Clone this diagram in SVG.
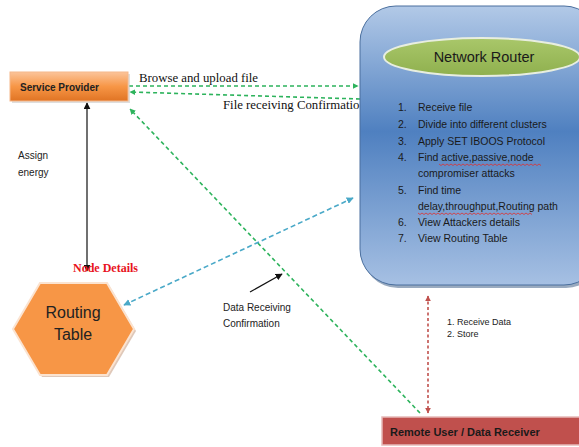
<svg xmlns="http://www.w3.org/2000/svg" width="579" height="447" viewBox="0 0 579 447">
<defs>
<style>
.sans{font-family:"Liberation Sans","Open Sans",sans-serif;}
.serif{font-family:"Liberation Serif","DejaVu Serif",serif;}
.lbl{font-size:10px;fill:#222;}
.li{font-size:10.5px;fill:#1a1a1a;}
.green{stroke:#2db35c;stroke-width:1.6;stroke-dasharray:4 3;fill:none;}
.teal{stroke:#4aa9c8;stroke-width:1.6;stroke-dasharray:5 3;fill:none;}
.red{stroke:#c0504d;stroke-width:1.6;stroke-dasharray:3 2.5;fill:none;}
.black{stroke:#111;stroke-width:1.2;fill:none;}
.wavy{stroke:#e03030;stroke-width:0.8;fill:none;}
</style>
<linearGradient id="gRouter" x1="0" y1="0" x2="0" y2="1">
<stop offset="0" stop-color="#b2c9e7"/>
<stop offset="0.45" stop-color="#4f80c0"/>
<stop offset="1" stop-color="#a6c0e3"/>
</linearGradient>
<linearGradient id="gSP" x1="0" y1="0" x2="0" y2="1">
<stop offset="0" stop-color="#fbc49a"/>
<stop offset="0.5" stop-color="#f79646"/>
<stop offset="1" stop-color="#e07424"/>
</linearGradient>
<linearGradient id="gEll" x1="0" y1="0" x2="0" y2="1">
<stop offset="0" stop-color="#a9c76a"/>
<stop offset="1" stop-color="#8fb04e"/>
</linearGradient>
<marker id="mG" viewBox="0 0 10 10" refX="9" refY="5" markerWidth="6" markerHeight="6" orient="auto-start-reverse" markerUnits="userSpaceOnUse"><path d="M0,0 L10,5 L0,10 z" fill="#2db35c"/></marker>
<marker id="mT" viewBox="0 0 10 10" refX="9" refY="5" markerWidth="7" markerHeight="7" orient="auto-start-reverse" markerUnits="userSpaceOnUse"><path d="M0,0 L10,5 L0,10 z" fill="#4aa9c8"/></marker>
<marker id="mR" viewBox="0 0 10 10" refX="9" refY="5" markerWidth="6" markerHeight="6" orient="auto-start-reverse" markerUnits="userSpaceOnUse"><path d="M0,0 L10,5 L0,10 z" fill="#c0504d"/></marker>
<marker id="mK" viewBox="0 0 10 10" refX="9" refY="5" markerWidth="7" markerHeight="7" orient="auto-start-reverse" markerUnits="userSpaceOnUse"><path d="M0,0 L10,5 L0,10 z" fill="#111"/></marker>
</defs>
<rect width="579" height="447" fill="#ffffff"/>

<g id="connectors">
<path class="green" d="M129,86 L358,86" marker-end="url(#mG)"/>
<path class="green" d="M360,99 L130,92" marker-end="url(#mG)"/>
<path class="green" d="M420,413 L130,109" marker-end="url(#mG)"/>
<path class="black" d="M87,271 L87,103" marker-start="url(#mK)" marker-end="url(#mK)"/>
<path class="teal" d="M124,305 L353,198" marker-start="url(#mT)" marker-end="url(#mT)"/>
<path class="red" d="M428,296 L428,413" marker-start="url(#mR)" marker-end="url(#mR)"/>
<path class="black" d="M250,292 L282,274" marker-end="url(#mK)"/>
<text class="serif" x="139" y="82" font-size="12.8" fill="#111">Browse and upload file</text>
<text class="serif" x="223" y="109" font-size="12.8" fill="#111">File receiving Confirmatio</text>
<text class="sans lbl" x="18" y="159">Assign</text>
<text class="sans lbl" x="18" y="176">energy</text>
<text class="serif" x="73" y="272" font-size="12" font-weight="bold" fill="#e8141e">Node Details</text>
<text class="sans lbl" x="223" y="311">Data Receiving</text>
<text class="sans lbl" x="223" y="327">Confirmation</text>
<text class="sans" x="447" y="325" font-size="9" fill="#222">1. Receive Data</text>
<text class="sans" x="447" y="337" font-size="9" fill="#222">2.  Store</text>
</g>

<g id="service-provider">
<rect x="12" y="74" width="118" height="29" fill="#c8c8c8" opacity="0.6"/>
<rect x="10" y="72" width="118" height="29" fill="url(#gSP)" stroke="#f5b78a" stroke-width="1"/>
<text class="sans" x="20" y="91" font-size="10" font-weight="bold" fill="#222">Service Provider</text>
</g>

<g id="network-router">
<rect x="362" y="9" width="240" height="279" rx="36" fill="#33557f" opacity="0.5"/>
<rect x="360" y="6" width="240" height="279" rx="36" fill="url(#gRouter)" stroke="#4a6f9e" stroke-width="1"/>
<ellipse cx="482" cy="57" rx="98" ry="19" fill="url(#gEll)" stroke="#e8eee0" stroke-width="2"/>
<text class="sans" x="484" y="62" font-size="14.5" text-anchor="middle" fill="#1a1a1a">Network Router</text>
<g class="sans li">
<text x="398" y="111">1.</text><text x="418" y="111">Receive file</text>
<text x="398" y="128">2.</text><text x="418" y="128">Divide into different clusters</text>
<text x="398" y="145">3.</text><text x="418" y="145">Apply SET IBOOS Protocol</text>
<text x="398" y="161">4.</text><text x="418" y="161">Find active,passive,node</text>
<text x="418" y="177">compromiser attacks</text>
<text x="398" y="194">5.</text><text x="418" y="194">Find time</text>
<text x="418" y="210">delay,throughput,Routing path</text>
<text x="398" y="226">6.</text><text x="418" y="226">View Attackers details</text>
<text x="398" y="242">7.</text><text x="418" y="242">View Routing Table</text>
</g>
<path class="wavy" d="M439,164 l2,1.5 l2,-1.5 l2,1.5 l2,-1.5 l2,1.5 l2,-1.5 l2,1.5 l2,-1.5 l2,1.5 l2,-1.5 l2,1.5 l2,-1.5 l2,1.5 l2,-1.5 l2,1.5 l2,-1.5 l2,1.5 l2,-1.5 l2,1.5 l2,-1.5 l2,1.5 l2,-1.5 l2,1.5 l2,-1.5 l2,1.5 l2,-1.5 l2,1.5 l2,-1.5 l2,1.5 l2,-1.5 l2,1.5 l2,-1.5 l2,1.5 l2,-1.5 l2,1.5 l2,-1.5 l2,1.5 l2,-1.5 l2,1.5 l2,-1.5 l2,1.5 l2,-1.5 l2,1.5 l2,-1.5 l2,1.5 l2,-1.5 l2,1.5 l2,-1.5 l2,1.5 l2,-1.5 l2,1.5"/>
<path class="wavy" d="M418,213 l2,1.5 l2,-1.5 l2,1.5 l2,-1.5 l2,1.5 l2,-1.5 l2,1.5 l2,-1.5 l2,1.5 l2,-1.5 l2,1.5 l2,-1.5 l2,1.5 l2,-1.5 l2,1.5 l2,-1.5 l2,1.5 l2,-1.5 l2,1.5 l2,-1.5 l2,1.5 l2,-1.5 l2,1.5 l2,-1.5 l2,1.5 l2,-1.5 l2,1.5 l2,-1.5 l2,1.5 l2,-1.5 l2,1.5 l2,-1.5 l2,1.5 l2,-1.5 l2,1.5 l2,-1.5 l2,1.5 l2,-1.5 l2,1.5 l2,-1.5 l2,1.5 l2,-1.5 l2,1.5 l2,-1.5 l2,1.5 l2,-1.5 l2,1.5 l2,-1.5 l2,1.5 l2,-1.5 l2,1.5 l2,-1.5 l2,1.5 l2,-1.5 l2,1.5 l2,-1.5 l2,1.5"/>
</g>

<g id="routing-table">
<polygon points="42,285 109,285 136,331 109,377 42,377 15,331" fill="#c9a48a" opacity="0.6"/>
<polygon points="40,283 107,283 134,329 107,375 40,375 13,329" fill="#f79646" stroke="#fbe3d0" stroke-width="2"/>
<text class="sans" x="73" y="318" font-size="16" text-anchor="middle" fill="#222">Routing</text>
<text class="sans" x="73" y="340" font-size="16" text-anchor="middle" fill="#222">Table</text>
</g>

<g id="remote-user">
<rect x="382" y="417" width="200" height="28" fill="#c0504d" stroke="#e6b9b8" stroke-width="1.5"/>
<text class="sans" x="390" y="436" font-size="11" font-weight="bold" fill="#1a1a1a">Remote User / Data Receiver</text>
</g>
</svg>
